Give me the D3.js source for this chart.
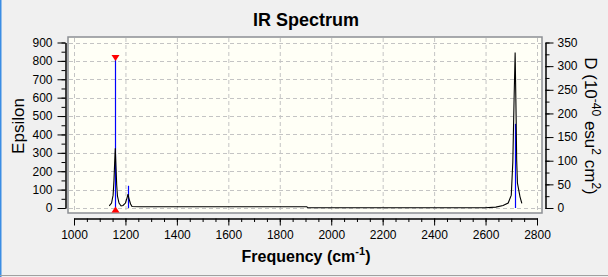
<!DOCTYPE html>
<html lang="en">
<head>
<meta charset="UTF-8">
<title>IR Spectrum</title>
<script src="https://d3js.org/d3.v7.min.js"></script>
<style>
  body { margin: 0; background: #f0f0f0; }
  svg { display: block; font-family: "Liberation Sans", Arial, sans-serif; }
</style>
</head>
<body>
<svg width="608" height="277"></svg>
<script>
// broadened spectrum: frequency (cm-1) / epsilon
const freq = [1137, 1146, 1152, 1155.5, 1158, 1160.5, 1163, 1166, 1169, 1175, 1183, 1190.5, 1200, 1206, 1210, 1214, 1220, 1225.5, 1257,
  1400, 1600, 1800, 1905, 1910, 2100, 2300, 2500, 2598, 2640, 2668, 2688, 2700, 2706, 2711, 2715, 2719, 2721, 2724, 2734, 2741];
const epsilon = [12, 27, 70, 152, 244, 325, 233, 125, 65, 27, 11, 14, 27, 54, 76, 49, 22, 8, 7,
  7, 7, 7, 7, 1, 1, 1, 1, 1, 5, 14, 27, 70, 250, 600, 846, 480, 260, 135, 61, 25];

// stick spectrum: frequency / D (10^-40 esu^2 cm^2)
const stickFreq = [1160, 1211, 2716];
const stickD = [317, 47, 178];

const xTicks = d3.range(1000, 2801, 200);
const xMinor = d3.range(1000, 2801, 50);
const epsTicks = d3.range(0, 901, 100);
const epsMinor = d3.range(0, 901, 50);
const dTicks = d3.range(0, 351, 50);
const dMinor = d3.range(0, 351, 25);

const svg = d3.select("svg");

// window edge bits
svg.append("rect").attr("x", 0).attr("y", 0).attr("width", 1.5).attr("height", 277).attr("fill", "#3b8de4");
svg.append("line").attr("x1", 0).attr("x2", 608).attr("y1", 275.5).attr("y2", 275.5)
  .attr("stroke", "#a0a0a0");

const plot = { left: 68, top: 37, right: 542, bottom: 213 };

const x = d3.scaleLinear().domain([1000, 2800]).range([74, 537]);
const y = d3.scaleLinear().domain([0, 900]).range([208, 42.5]);
const yD = d3.scaleLinear().domain([0, 350]).range([208, 42.5]);

// plot frame
svg.append("rect")
  .attr("x", plot.left).attr("y", plot.top)
  .attr("width", plot.right - plot.left).attr("height", plot.bottom - plot.top)
  .attr("fill", "#fffff6").attr("stroke", "#8c8f94").attr("stroke-width", 1.5);

// grid
const grid = svg.append("g").attr("stroke", "#c4c4c4").attr("stroke-dasharray", "4,3");
grid.selectAll(".gx").data(xTicks).enter().append("line")
  .attr("x1", d => x(d) + 0.5).attr("x2", d => x(d) + 0.5)
  .attr("y1", plot.top + 1).attr("y2", plot.bottom - 1);
grid.selectAll(".gy").data(epsTicks).enter().append("line")
  .attr("y1", d => Math.round(y(d)) + 0.5).attr("y2", d => Math.round(y(d)) + 0.5)
  .attr("x1", plot.left + 1).attr("x2", plot.right - 1);

// sticks
const sticks = stickFreq.map((f, i) => ({ f: f, d: stickD[i] }));
svg.selectAll(".stick").data(sticks).enter().append("line")
  .attr("x1", d => Math.round(x(d.f)) + 0.5).attr("x2", d => Math.round(x(d.f)) + 0.5)
  .attr("y1", yD(0)).attr("y2", d => yD(d.d))
  .attr("stroke", "#0000ff").attr("stroke-width", 1.2);

// spectrum
const line = d3.line().x(d => x(d[0])).y(d => y(d[1]));
svg.append("path")
  .datum(freq.map((f, i) => [f, epsilon[i]]))
  .attr("d", line)
  .attr("fill", "none").attr("stroke", "#000").attr("stroke-width", 1.1);

// markers on the strongest stick
const maxStick = sticks[d3.maxIndex(sticks, d => d.d)];
const tx = Math.round(x(maxStick.f)) + 0.5;
const ty = yD(maxStick.d);
svg.append("path")
  .attr("d", `M${tx - 4},${ty - 3}L${tx + 4},${ty - 3}L${tx},${ty + 3}Z`)
  .attr("fill", "#ff0000");
svg.append("path")
  .attr("d", `M${tx - 4},${yD(0) + 4.5}L${tx + 4},${yD(0) + 4.5}L${tx},${yD(0) - 1.5}Z`)
  .attr("fill", "#ff0000");

// axes
function styleAxis(g) {
  g.selectAll("text").attr("font-size", 12).attr("font-family", "Liberation Sans, Arial, sans-serif").attr("fill", "#000");
  g.selectAll("line, path").attr("stroke", "#000");
}

svg.append("g").attr("transform", "translate(0,218.5)")
  .call(d3.axisBottom(x).tickValues(xMinor).tickSize(3.5).tickSizeOuter(0).tickFormat(""))
  .call(styleAxis);
svg.append("g").attr("transform", "translate(0,218.5)")
  .call(d3.axisBottom(x).tickValues(xTicks).tickSize(7).tickSizeOuter(0).tickPadding(5).tickFormat(d3.format("d")))
  .call(styleAxis);

svg.append("g").attr("transform", "translate(65.5,0)")
  .call(d3.axisLeft(y).tickValues(epsMinor).tickSize(4).tickSizeOuter(0).tickFormat(""))
  .call(styleAxis);
svg.append("g").attr("transform", "translate(65.5,0)")
  .call(d3.axisLeft(y).tickValues(epsTicks).tickSize(8).tickSizeOuter(0).tickPadding(5).tickFormat(d3.format("d")))
  .call(styleAxis);

svg.append("g").attr("transform", "translate(545.5,0)")
  .call(d3.axisRight(yD).tickValues(dMinor).tickSize(4).tickSizeOuter(0).tickFormat(""))
  .call(styleAxis);
svg.append("g").attr("transform", "translate(545.5,0)")
  .call(d3.axisRight(yD).tickValues(dTicks).tickSize(8).tickSizeOuter(0).tickPadding(4).tickFormat(d3.format("d")))
  .call(styleAxis);

// titles
svg.append("text").attr("x", 306).attr("y", 26).attr("text-anchor", "middle")
  .attr("font-size", 18).attr("font-weight", "bold").text("IR Spectrum");

const xt = svg.append("text").attr("x", 306).attr("y", 262).attr("text-anchor", "middle")
  .attr("font-size", 16).attr("font-weight", "bold");
xt.append("tspan").text("Frequency (cm");
xt.append("tspan").attr("dy", -7).attr("font-size", 11).text("-1");
xt.append("tspan").attr("dy", 7).text(")");

svg.append("text").attr("transform", "translate(24,126) rotate(-90)").attr("text-anchor", "middle")
  .attr("font-size", 17).text("Epsilon");

const dt = svg.append("text").attr("transform", "translate(585,126) rotate(90)").attr("text-anchor", "middle")
  .attr("font-size", 17);
dt.append("tspan").text("D (10");
dt.append("tspan").attr("dy", -7).attr("font-size", 12).text("-40");
dt.append("tspan").attr("dy", 7).text(" esu");
dt.append("tspan").attr("dy", -7).attr("font-size", 12).text("2");
dt.append("tspan").attr("dy", 7).text(" cm");
dt.append("tspan").attr("dy", -7).attr("font-size", 12).text("2");
dt.append("tspan").attr("dy", 7).text(")");
</script>
</body>
</html>
